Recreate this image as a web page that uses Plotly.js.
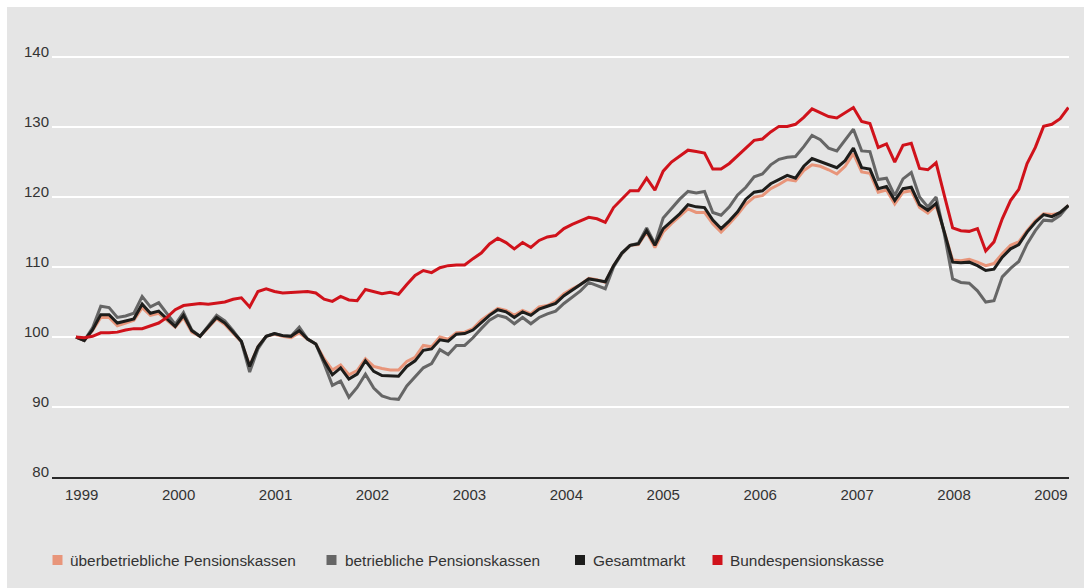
<!DOCTYPE html>
<html>
<head>
<meta charset="utf-8">
<script src="https://cdn.plot.ly/plotly-3.0.1.min.js"></script>
<style>
  html, body { margin: 0; padding: 0; background: #ffffff; }
  #chart { position: absolute; left: 7px; top: 7px; width: 1077px; height: 581px; }
</style>
</head>
<body>
<div id="chart"></div>
<script>
// ---- data (index values, 1999 = 100) ----
const seriesNames = ["überbetriebliche Pensionskassen", "betriebliche Pensionskassen", "Gesamtmarkt", "Bundespensionskasse"];
const seriesColors = ["#e8957a", "#666666", "#1d1d1b", "#d0121b"];
const yearLabels = ["1999","2000","2001","2002","2003","2004","2005","2006","2007","2008","2009"];

const ueberbetrieblich = [
 100.0, 99.5, 100.9, 102.8, 102.8, 101.6, 102.0, 102.4, 104.2, 103.1,
 103.4, 102.4, 101.4, 102.8, 100.7, 100.1, 101.3, 102.6, 101.8, 100.5,
 99.3, 95.9, 98.6, 100.1, 100.4, 100.1, 99.9, 100.6, 99.7, 99.0,
 96.9, 95.3, 96.0, 94.6, 95.2, 96.9, 95.8, 95.5, 95.3, 95.3,
 96.5, 97.1, 98.8, 98.6, 100.0, 99.7, 100.6, 100.7, 101.2, 102.4,
 103.3, 104.1, 103.8, 103.1, 103.8, 103.3, 104.3, 104.5, 105.1, 106.2,
 106.9, 107.5, 108.4, 108.2, 107.8, 110.2, 111.9, 113.1, 113.2, 115.0,
 112.8, 115.0, 116.2, 117.2, 118.3, 117.8, 117.8, 116.2, 115.0, 116.2,
 117.5, 119.0, 120.0, 120.2, 121.2, 121.8, 122.5, 122.3, 123.8, 124.6,
 124.4, 123.9, 123.3, 124.4, 126.2, 123.6, 123.4, 120.7, 121.0, 119.0,
 120.7, 120.9, 118.5, 117.7, 118.8, 115.0, 111.0, 110.9, 111.1, 110.7,
 110.2, 110.5, 111.9, 113.1, 113.6, 115.2, 116.6, 117.6, 117.5, 117.7,
 118.8
];
const betrieblich = [
 100.0, 99.5, 101.3, 104.4, 104.2, 102.8, 103.0, 103.4, 105.8, 104.3,
 104.9, 103.3, 101.8, 103.5, 101.0, 100.1, 101.6, 103.1, 102.3, 100.9,
 99.3, 95.0, 98.3, 100.1, 100.5, 100.2, 100.1, 101.4, 99.7, 99.0,
 96.2, 93.1, 93.7, 91.4, 92.8, 94.7, 92.7, 91.6, 91.2, 91.1,
 93.0, 94.3, 95.6, 96.2, 98.2, 97.5, 98.8, 98.8, 99.9, 101.2,
 102.4, 103.1, 102.8, 101.9, 102.8, 101.9, 102.8, 103.3, 103.7, 104.8,
 105.7, 106.6, 107.8, 107.4, 106.9, 110.0, 111.9, 113.1, 113.4, 115.6,
 113.3, 117.0, 118.3, 119.7, 120.8, 120.6, 120.8, 117.8, 117.4, 118.6,
 120.3, 121.4, 122.9, 123.3, 124.6, 125.4, 125.7, 125.8, 127.2, 128.8,
 128.2, 127.0, 126.6, 128.1, 129.7, 126.6, 126.5, 122.5, 122.7, 120.2,
 122.6, 123.5, 120.0, 118.6, 120.0, 114.7, 108.3, 107.8, 107.7, 106.6,
 105.0, 105.2, 108.6, 109.8, 110.8, 113.3, 115.2, 116.7, 116.6, 117.4,
 118.8
];
const gesamtmarkt = [
 100.0, 99.5, 101.0, 103.2, 103.2, 102.0, 102.3, 102.6, 104.7, 103.4,
 103.7, 102.6, 101.5, 103.1, 100.9, 100.1, 101.5, 102.8, 102.0, 100.7,
 99.4, 95.8, 98.6, 100.1, 100.5, 100.2, 100.1, 100.9, 99.7, 99.0,
 96.6, 94.6, 95.6, 94.0, 94.7, 96.6, 95.1, 94.5, 94.4, 94.4,
 95.8, 96.6, 98.1, 98.3, 99.6, 99.4, 100.4, 100.5, 101.0, 102.1,
 103.1, 103.9, 103.6, 102.8, 103.6, 103.1, 104.0, 104.4, 104.8, 105.9,
 106.7, 107.4, 108.3, 108.1, 107.9, 110.2, 112.0, 113.1, 113.3, 115.2,
 113.1, 115.5, 116.6, 117.6, 118.9, 118.6, 118.5, 116.7, 115.5, 116.6,
 117.9, 119.7, 120.7, 120.9, 121.9, 122.5, 123.1, 122.7, 124.4, 125.5,
 125.1, 124.6, 124.2, 125.2, 127.0, 124.2, 124.0, 121.2, 121.5, 119.5,
 121.2, 121.4, 118.9, 118.1, 119.1, 115.0, 110.7, 110.6, 110.7, 110.2,
 109.5, 109.7, 111.4, 112.6, 113.2, 115.0, 116.4, 117.5, 117.2, 117.8,
 118.8
];
const bundespensionskasse = [
 100.0, 99.9, 100.1, 100.6, 100.6, 100.7, 101.0, 101.2, 101.2, 101.6,
 102.0, 102.8, 103.9, 104.5, 104.6, 104.8, 104.7, 104.9, 105.0, 105.4,
 105.6, 104.3, 106.5, 106.9, 106.5, 106.3, 106.4, 106.4, 106.5, 106.3,
 105.4, 105.1, 105.8, 105.3, 105.2, 106.8, 106.5, 106.2, 106.4, 106.1,
 107.5, 108.8, 109.5, 109.2, 109.9, 110.2, 110.3, 110.3, 111.2, 112.0,
 113.3, 114.1, 113.5, 112.6, 113.5, 112.8, 113.8, 114.3, 114.5, 115.5,
 116.1, 116.6, 117.1, 116.9, 116.4, 118.5, 119.7, 120.9, 120.9, 122.7,
 121.0, 123.7, 125.0, 125.9, 126.7, 126.5, 126.3, 124.0, 124.0, 124.8,
 125.9, 126.9, 128.1, 128.3, 129.3, 130.1, 130.1, 130.4, 131.4, 132.6,
 132.1, 131.5, 131.3, 132.1, 132.8, 130.8, 130.5, 127.1, 127.6, 125.0,
 127.4, 127.7, 124.1, 123.9, 124.9, 120.2, 115.6, 115.2, 115.1, 115.5,
 112.3, 113.6, 116.9, 119.5, 121.1, 124.8, 127.1, 130.1, 130.4, 131.2,
 132.8
];
const seriesValues = [ueberbetrieblich, betrieblich, gesamtmarkt, bundespensionskasse];

// ---- build chart ----
const pointIndex = ueberbetrieblich.map((_, i) => i);
const traces = seriesValues.map((vals, k) => ({
  type: "scatter", mode: "lines",
  x: pointIndex, y: vals,
  name: seriesNames[k],
  line: { color: seriesColors[k], width: 3 },
  showlegend: false, hoverinfo: "skip"
}));

// tick positions for year labels (in point-index units)
const tickPos = yearLabels.map((_, k) => 0.69 + 11.72 * k);

// geometry helpers (image pixels -> paper coords) for the hand-made legend
const PL = 52, PW = 1017, PB = 477, PH = 422;
const px = v => (v - PL) / PW;
const py = v => (PB - v) / PH;

const legendSwatchX = [52.5, 326.5, 575, 712.5];
const legendTextX = [67.5, 342.5, 590.5, 727.5];
const legendY = 560;
const shapes = seriesNames.map((n, k) => ({
  type: "rect", xref: "paper", yref: "paper", layer: "above",
  x0: px(legendSwatchX[k]), x1: px(legendSwatchX[k] + 10),
  y0: py(legendY + 5), y1: py(legendY - 5),
  fillcolor: seriesColors[k], line: { width: 0 }
}));
const annotations = seriesNames.map((n, k) => ({
  xref: "paper", yref: "paper", x: px(legendTextX[k]), y: py(legendY),
  xanchor: "left", yanchor: "middle", showarrow: false, text: n,
  font: { family: "Liberation Sans, Arial, sans-serif", size: 15.4, color: "#333333" }
}));

const layout = {
  width: 1077, height: 581,
  paper_bgcolor: "#e5e5e5", plot_bgcolor: "#e5e5e5",
  margin: { l: 45, r: 15, t: 48, b: 111 },
  font: { family: "Liberation Sans, Arial, sans-serif", size: 15, color: "#333333" },
  showlegend: false,
  xaxis: {
    range: [-2.9, 120.07], showgrid: false, zeroline: false,
    showline: true, linecolor: "#2a2a2a", linewidth: 1.5,
    ticks: "", tickmode: "array", tickvals: tickPos, ticktext: yearLabels,
    ticklabelstandoff: 3, fixedrange: true
  },
  yaxis: {
    range: [80, 140.3], tickmode: "array", tickvals: [80, 90, 100, 110, 120, 130, 140],
    showgrid: true, gridcolor: "#ffffff", gridwidth: 1.5, zeroline: false,
    showline: false, ticks: "", ticklabelstandoff: 2, ticklabelshift: -5, fixedrange: true
  },
  shapes: shapes,
  annotations: annotations
};

Plotly.newPlot("chart", traces, layout, { displayModeBar: false, staticPlot: true });
</script>
</body>
</html>
